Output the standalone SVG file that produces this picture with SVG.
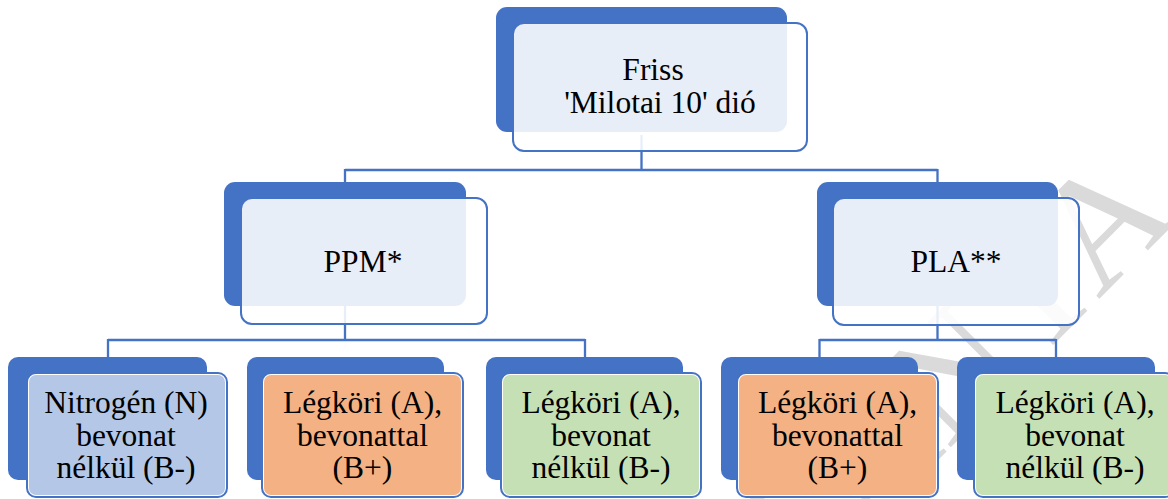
<svg xmlns="http://www.w3.org/2000/svg" width="1168" height="499" viewBox="0 0 1168 499">
<style>
.wm{font-family:"Liberation Serif","Times New Roman",serif;font-size:160px;fill:#dadada;text-anchor:end}
.sh{fill:#4472C4}
.fr{fill:#ffffff;fill-opacity:0.88;stroke:#4472C4;stroke-width:2}
.fo{fill:#ffffff;stroke:#4472C4;stroke-width:2}
.cb{fill:#B4C7E7}
.co{fill:#F4B183}
.cg{fill:#C5E0B4}
.t{font-family:"Liberation Serif","Times New Roman",serif;font-size:31.5px;fill:#000;text-anchor:middle}
.ln{fill:none;stroke:#4472C4;stroke-width:2.3}
</style>
<g id="watermark">
<text class="wm" transform="translate(1180,218) rotate(-45)">MUNKAANYA</text>
</g>
<g id="connectors">
<path class="ln" d="M641.5,135 V170 M345,170 H937.5 M345,169 V190 M937.5,169 V190"/>
<path class="ln" d="M345,300 V340 M108,340 H585 M108,339 V362 M585,339 V362"/>
<path class="ln" d="M937.5,300 V340 M819.5,340 H1056 M819.5,339 V362 M1056,339 V362"/>
</g>
<g id="n-root">
<rect class="sh" x="496" y="7" width="291" height="125" rx="11"/>
<rect class="fr" x="513" y="23" width="294" height="128" rx="11"/>
<text class="t" x="653" y="80">Friss</text>
<text class="t" x="660" y="113">'Milotai 10' dió</text>
</g>
<g id="n-ppm">
<rect class="sh" x="224" y="182" width="242" height="124" rx="11"/>
<rect class="fr" x="241" y="198" width="246" height="126" rx="11"/>
<text class="t" x="363" y="272">PPM*</text>
</g>
<g id="n-pla">
<rect class="sh" x="817" y="182" width="241" height="124" rx="11"/>
<rect class="fr" x="833" y="198" width="246" height="127" rx="11"/>
<text class="t" x="956" y="272">PLA**</text>
</g>
<g id="n-ppm-n">
<rect class="sh" x="8" y="357" width="199" height="123" rx="10"/>
<rect class="fo" x="27" y="373" width="200" height="124" rx="9"/>
<rect class="cb" x="29" y="375" width="196" height="120" rx="7"/>
<text class="t" x="126" y="413">Nitrogén (N)</text>
<text class="t" x="126" y="445.5">bevonat</text>
<text class="t" x="126" y="478">nélkül (B-)</text>
</g>
<g id="n-ppm-ab">
<rect class="sh" x="247" y="357" width="197" height="123" rx="10"/>
<rect class="fo" x="262" y="373" width="201" height="124" rx="9"/>
<rect class="co" x="264" y="375" width="197" height="120" rx="7"/>
<text class="t" x="362.5" y="413">Légköri (A),</text>
<text class="t" x="362.5" y="445.5">bevonattal</text>
<text class="t" x="362.5" y="478">(B+)</text>
</g>
<g id="n-ppm-anb">
<rect class="sh" x="486" y="357" width="197" height="123" rx="10"/>
<rect class="fo" x="501" y="373" width="200" height="124" rx="9"/>
<rect class="cg" x="503" y="375" width="196" height="120" rx="7"/>
<text class="t" x="601" y="413">Légköri (A),</text>
<text class="t" x="601" y="445.5">bevonat</text>
<text class="t" x="601" y="478">nélkül (B-)</text>
</g>
<g id="n-pla-ab">
<rect class="sh" x="721" y="357" width="197" height="123" rx="10"/>
<rect class="fo" x="737" y="373" width="201" height="124" rx="9"/>
<rect class="co" x="739" y="375" width="197" height="120" rx="7"/>
<text class="t" x="837.5" y="413">Légköri (A),</text>
<text class="t" x="837.5" y="445.5">bevonattal</text>
<text class="t" x="837.5" y="478">(B+)</text>
</g>
<g id="n-pla-anb">
<rect class="sh" x="957" y="357" width="198" height="123" rx="10"/>
<rect class="fo" x="974" y="373" width="200" height="124" rx="9"/>
<rect class="cg" x="976" y="375" width="196" height="120" rx="7"/>
<text class="t" x="1075" y="413">Légköri (A),</text>
<text class="t" x="1075" y="445.5">bevonat</text>
<text class="t" x="1075" y="478">nélkül (B-)</text>
</g>
</svg>
